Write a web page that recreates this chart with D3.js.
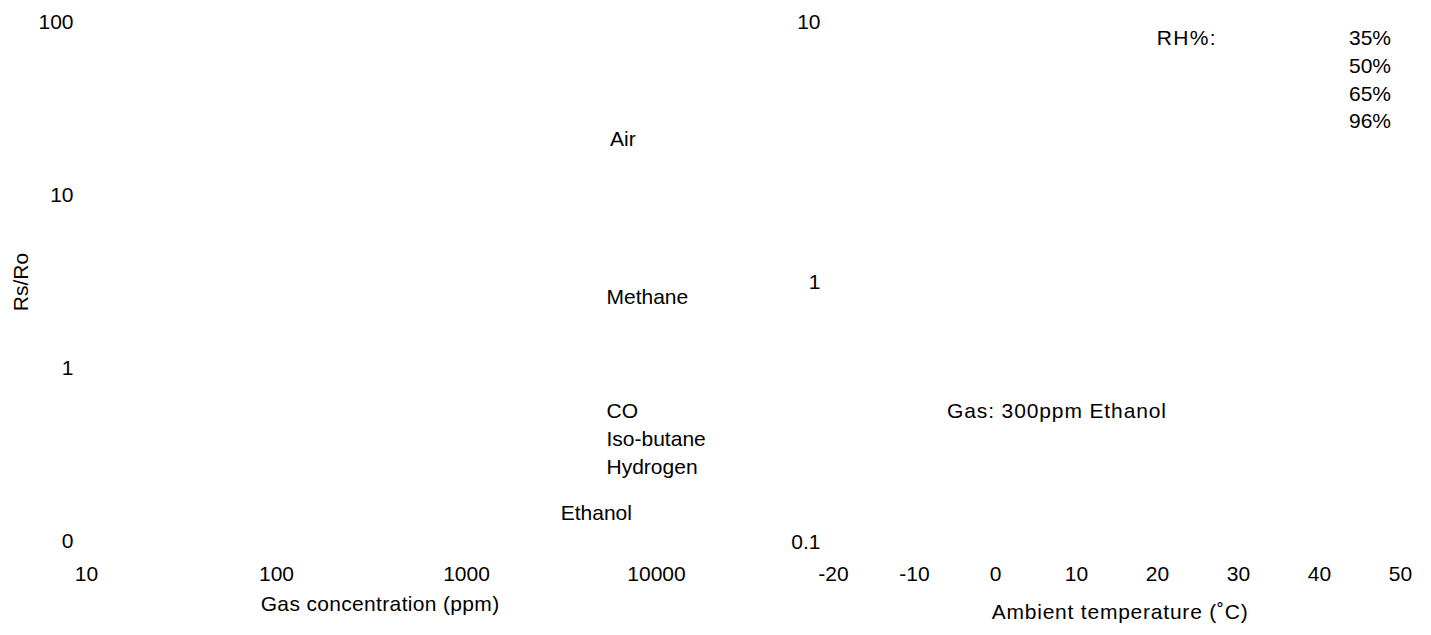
<!DOCTYPE html>
<html>
<head>
<meta charset="utf-8">
<script src="https://cdn.jsdelivr.net/npm/d3@7/dist/d3.min.js"></script>
<style>
  html, body { margin: 0; padding: 0; background: #fff; }
  svg text { font-family: "Liberation Sans", Arial, Helvetica, sans-serif; fill: #000; }
  .axis path, .axis line { display: none; }
</style>
</head>
<body>
<svg id="chart" width="1431" height="635"></svg>
<script>
// Left panel: sensitivity characteristics (Rs/Ro vs gas concentration)
const concTicks = [10, 100, 1000, 10000];
const concTickLabels = ["10", "100", "1000", "10000"];
const ratioTicks = [100, 10, 1, 0.1];
const ratioTickLabels = ["100", "10", "1", "0"];
const gasNames = ["Air", "Methane", "CO", "Iso-butane", "Hydrogen", "Ethanol"];

// Right panel: temperature / humidity dependency
const tempTicks = [-20, -10, 0, 10, 20, 30, 40, 50];
const tempTickLabels = ["-20", "-10", "0", "10", "20", "30", "40", "50"];
const ratioTicksR = [10, 1, 0.1];
const ratioTickLabelsR = ["10", "1", "0.1"];
const rhLevels = ["35%", "50%", "65%", "96%"];

const FS = 21;
const svg = d3.select("#chart");

// ---- scales ----
const xConc = d3.scaleLog().domain([10, 10000]).range([86, 656]);
const yRatio = d3.scaleLog().domain([0.1, 100]).range([541, 22]);
const xTemp = d3.scaleLinear().domain([-20, 50]).range([833, 1400]);
const yRatioR = d3.scaleLog().domain([0.1, 10]).range([541.7, 21.3]);

function styleAxis(g) {
  g.attr("class", "axis")
   .attr("font-family", null)
   .attr("font-size", null)
   .selectAll("text").style("font-size", FS + "px");
}

// ---- left panel axes ----
svg.append("g")
  .attr("transform", "translate(73.5,0)")
  .call(d3.axisLeft(yRatio).tickValues(ratioTicks)
    .tickFormat((d, i) => ratioTickLabels[i]).tickSize(0).tickPadding(0))
  .call(styleAxis);

svg.append("g")
  .attr("transform", "translate(0,566.5)")
  .call(d3.axisBottom(xConc).tickValues(concTicks)
    .tickFormat((d, i) => concTickLabels[i]).tickSize(0).tickPadding(0))
  .call(styleAxis);

// ---- right panel axes ----
svg.append("g")
  .attr("transform", "translate(820.5,0)")
  .call(d3.axisLeft(yRatioR).tickValues(ratioTicksR)
    .tickFormat((d, i) => ratioTickLabelsR[i]).tickSize(0).tickPadding(0))
  .call(styleAxis);

svg.append("g")
  .attr("transform", "translate(0,566.5)")
  .call(d3.axisBottom(xTemp).tickValues(tempTicks)
    .tickFormat((d, i) => tempTickLabels[i]).tickSize(0).tickPadding(0))
  .call(styleAxis);

// ---- axis titles ----
svg.append("text")
  .attr("transform", "translate(27.5,282) rotate(-90)")
  .attr("text-anchor", "middle")
  .style("font-size", FS + "px")
  .text("Rs/Ro");

svg.append("text")
  .attr("x", 260.7).attr("y", 611)
  .attr("textLength", 238.5).attr("lengthAdjust", "spacing")
  .style("font-size", FS + "px")
  .text("Gas concentration (ppm)");

svg.append("text")
  .attr("x", 991.7).attr("y", 619)
  .attr("textLength", 256).attr("lengthAdjust", "spacing")
  .style("font-size", FS + "px")
  .text("Ambient temperature (˚C)");

// ---- curve labels, left panel ----
const gasLabelPos = {
  "Air":        [610, 146],
  "Methane":    [606.5, 303.5],
  "CO":         [606.5, 418.3],
  "Iso-butane": [606.5, 446.3],
  "Hydrogen":   [606.5, 473.5],
  "Ethanol":    [560.7, 520]
};
svg.append("g").selectAll("text")
  .data(gasNames)
  .join("text")
  .attr("x", d => gasLabelPos[d][0])
  .attr("y", d => gasLabelPos[d][1])
  .style("font-size", FS + "px")
  .text(d => d);

// ---- right panel annotations ----
svg.append("text")
  .attr("x", 947).attr("y", 418.3)
  .attr("textLength", 219).attr("lengthAdjust", "spacing")
  .style("font-size", FS + "px")
  .text("Gas: 300ppm Ethanol");

svg.append("text")
  .attr("x", 1156.7).attr("y", 45)
  .attr("textLength", 59).attr("lengthAdjust", "spacing")
  .style("font-size", FS + "px")
  .text("RH%:");

svg.append("g").selectAll("text")
  .data(rhLevels)
  .join("text")
  .attr("x", 1349)
  .attr("y", (d, i) => 45 + i * 27.8)
  .style("font-size", FS + "px")
  .text(d => d);
</script>
</body>
</html>
